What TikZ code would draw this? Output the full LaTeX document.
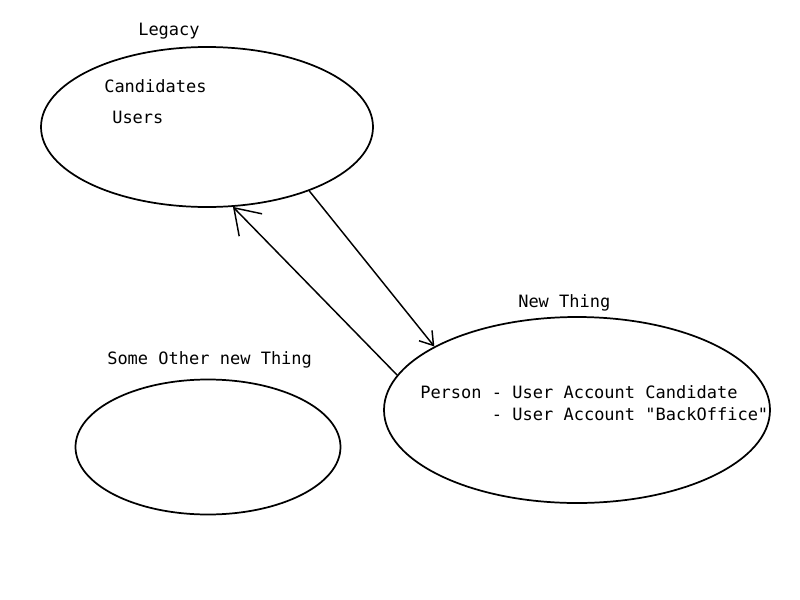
\documentclass[tikz,border=0pt]{standalone}
\usepackage{fontspec}
\setmonofont{DejaVu Sans Mono}
\usetikzlibrary{shapes.geometric,arrows.meta}
\begin{document}
\begin{tikzpicture}[x=0.75pt,y=-0.75pt,
  blob/.style={draw,ellipse,line width=1.3pt,inner sep=0pt},
  lbl/.style={font=\ttfamily\fontsize{12.75pt}{15pt}\selectfont,inner sep=0pt,anchor=west},
  conn/.style={line width=1.1pt}]
\useasboundingbox (0,0) rectangle (800,600);
\node[blob,minimum width=332*0.75pt,minimum height=160*0.75pt] (legacy) at (207,127) {};
\node[blob,minimum width=386*0.75pt,minimum height=186*0.75pt] (newthing) at (577,410) {};
\node[blob,minimum width=265*0.75pt,minimum height=135*0.75pt] (other) at (208,447) {};
\node[lbl] (tlegacy) at (138,31) {Legacy};
\node[lbl] (tcand) at (104,86) {Candidates};
\node[lbl] (tusers) at (112,117) {Users};
\node[lbl] (tnew) at (518,303) {New Thing};
\node[lbl] (tother) at (107,360) {Some Other new Thing};
\node[lbl] (tperson) at (420,392) {Person - User Account Candidate};
\node[lbl] (tacct) at (420,414) {\hphantom{Person }- User Account "BackOffice"};
\draw[conn,-{Straight Barb[length=9.5pt,width=12.5pt,line width=1.1pt]}] (legacy.-32) -- (newthing.156);
\draw[conn,-{Straight Barb[length=18pt,width=24pt,line width=1.1pt]}] (newthing.169.6) -- (legacy.-72.6);
\end{tikzpicture}
\end{document}
